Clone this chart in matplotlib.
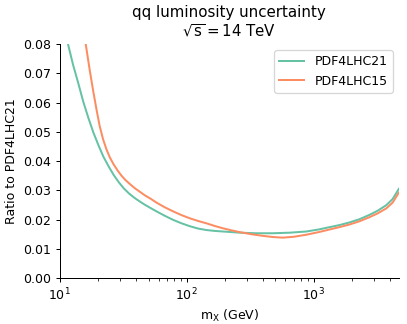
import matplotlib
matplotlib.use("Agg")
import matplotlib.pyplot as plt

# curve values (mass in GeV, relative uncertainty)
mass_21 = [11.6, 12.7, 14.0, 15.3, 16.8, 18.4, 20.2, 22.1, 24.3, 26.6, 29.2,
           32.0, 35.1, 38.5, 42.2, 46.2, 52.0, 57.7, 67.0, 78.0, 91.0, 106,
           123, 143, 166, 193, 225, 261, 350, 479, 650, 877, 1100, 1340, 1600,
           1920, 2300, 2760, 3200, 3740, 4200, 4700]
unc_21 = [0.0800, 0.0730, 0.0665, 0.0603, 0.0547, 0.0497, 0.0453, 0.0414,
          0.0381, 0.0352, 0.0327, 0.0306, 0.0289, 0.0275, 0.0263, 0.0252,
          0.0239, 0.0228, 0.0213, 0.0199, 0.0187, 0.0177, 0.0169, 0.0164,
          0.0161, 0.0159, 0.0157, 0.0155, 0.0153, 0.0153, 0.0155, 0.0159,
          0.0166, 0.0174, 0.0181, 0.0190, 0.0201, 0.0216, 0.0230, 0.0249,
          0.0270, 0.0305]

mass_15 = [16.0, 17.2, 18.3, 19.5, 20.6, 21.9, 23.3, 24.8, 26.5, 28.5, 30.6,
           32.9, 35.5, 39.0, 42.7, 46.7, 52.0, 57.7, 67.0, 78.0, 91.0, 106,
           123, 143, 166, 193, 225, 261, 320, 400, 480, 573, 700, 877, 1100,
           1340, 1600, 1920, 2300, 2760, 3200, 3740, 4200, 4700]
unc_15 = [0.0800, 0.0711, 0.0641, 0.0574, 0.0520, 0.0475, 0.0440, 0.0412,
          0.0389, 0.0368, 0.0350, 0.0335, 0.0322, 0.0307, 0.0295, 0.0283,
          0.0271, 0.0258, 0.0242, 0.0228, 0.0215, 0.0204, 0.0195, 0.0187,
          0.0178, 0.0170, 0.0163, 0.0157, 0.0150, 0.0144, 0.0140, 0.0138,
          0.0141, 0.0148, 0.0157, 0.0166, 0.0174, 0.0183, 0.0194, 0.0208,
          0.0221, 0.0238, 0.0258, 0.0292]

plt.rcParams["mathtext.default"] = "regular"

fig = plt.figure(figsize=(407 / 90, 324 / 90), dpi=90)
ax = fig.add_axes([0.147, 0.142, 0.833, 0.722])

ax.plot(mass_21, unc_21, color="#66c2a5", lw=1.6, label="PDF4LHC21")
ax.plot(mass_15, unc_15, color="#fc8d62", lw=1.6, label="PDF4LHC15")

ax.set_xscale("log")
ax.set_xlim(10, 4700)
ax.set_ylim(0, 0.08)
ax.set_yticks([0.00, 0.01, 0.02, 0.03, 0.04, 0.05, 0.06, 0.07, 0.08])
ax.set_xlabel("$m_X$ (GeV)")
ax.set_ylabel("Ratio to PDF4LHC21")
ax.set_title("qq luminosity uncertainty\n$\\sqrt{s}=14$ TeV")
ax.spines["top"].set_visible(False)
ax.spines["right"].set_visible(False)
ax.legend(loc="upper right")

fig.savefig("out.png", dpi=90)
